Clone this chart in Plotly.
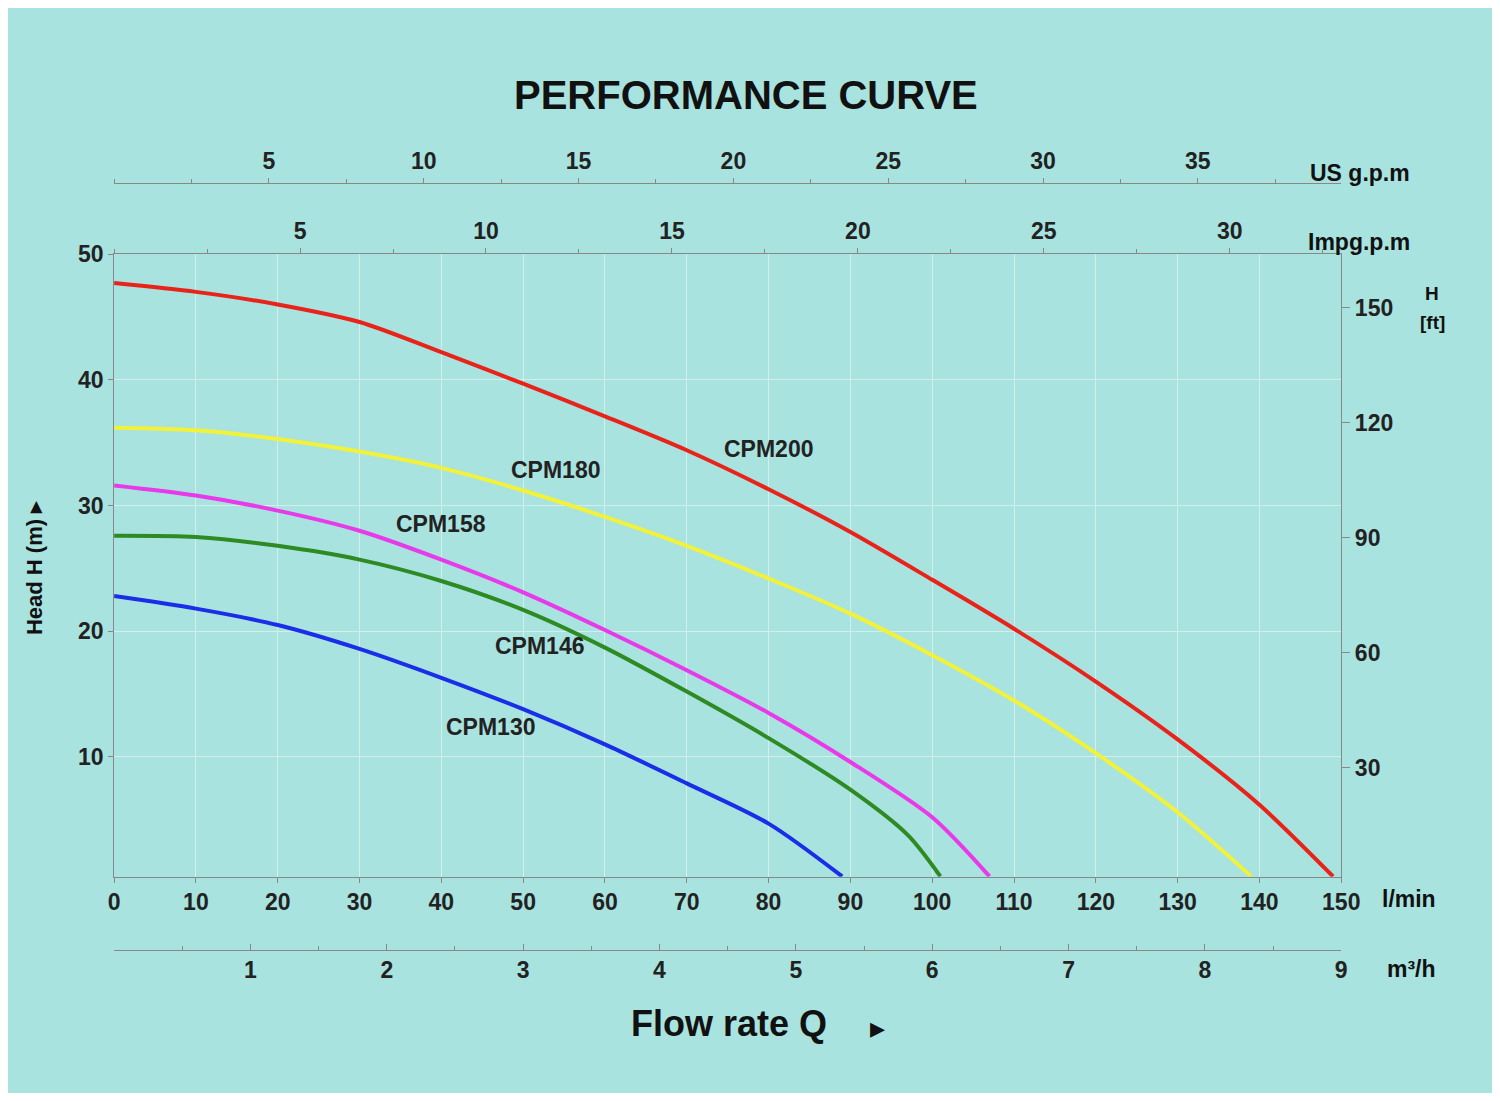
import plotly.graph_objects as go

flow = [0, 10, 20, 30, 40, 50, 60, 70, 80, 90, 100, 110, 120, 130, 140, 149]
cpm200 = [47.7, 47.0, 46.0, 44.6, 42.2, 39.7, 37.1, 34.4, 31.3, 27.9, 24.1, 20.2, 16.0, 11.4, 6.2, 0.5]
flow180 = [0, 10, 20, 30, 40, 50, 60, 70, 80, 90, 100, 110, 120, 130, 139]
cpm180 = [36.2, 36.0, 35.3, 34.3, 33.0, 31.2, 29.1, 26.8, 24.2, 21.4, 18.1, 14.5, 10.3, 5.6, 0.5]
flow158 = [0, 10, 20, 30, 40, 50, 60, 70, 80, 90, 100, 107]
cpm158 = [31.6, 30.8, 29.6, 28.0, 25.7, 23.1, 20.1, 16.9, 13.5, 9.6, 5.2, 0.5]
flow146 = [0, 10, 20, 30, 40, 50, 60, 70, 80, 90, 97, 101]
cpm146 = [27.6, 27.5, 26.8, 25.7, 24.0, 21.7, 18.7, 15.2, 11.5, 7.4, 3.8, 0.5]
flow130 = [0, 10, 20, 30, 40, 50, 60, 70, 80, 89]
cpm130 = [22.8, 21.8, 20.5, 18.6, 16.3, 13.8, 11.0, 7.9, 4.7, 0.5]

series = [("CPM200", flow, cpm200, "#e8231a", 80, 34.5),
          ("CPM180", flow180, cpm180, "#f2f23a", 54, 32.8),
          ("CPM158", flow158, cpm158, "#e83ae8", 40, 28.5),
          ("CPM146", flow146, cpm146, "#2e8a22", 52, 18.8),
          ("CPM130", flow130, cpm130, "#1a2ee8", 46, 12.4)]

bg = "#a9e3df"
fig = go.Figure()
for name, xs, ys, col, lx, ly in series:
    fig.add_trace(go.Scatter(x=xs, y=ys, mode="lines",
                             line=dict(color=col, width=4, shape="spline", smoothing=0.8), showlegend=False))
    fig.add_annotation(x=lx, y=ly, text="<b>%s</b>" % name, showarrow=False,
                       font=dict(family="Liberation Sans", size=23, color="#222"))

yr = [0.47, 50]
tf = dict(family="Liberation Sans", size=23, color="#222", weight="bold")
dom = [0.0686, 0.9097]
fig.update_layout(
    width=1484, height=1085, paper_bgcolor=bg, plot_bgcolor=bg,
    margin=dict(l=0, r=0, t=0, b=0),
    xaxis=dict(domain=dom, range=[0, 150], dtick=10, showgrid=True, gridcolor="#d4eeec",
               showline=True, linecolor="#888", ticks="outside", ticklen=5,
               tickcolor="#888", tickfont=tf, zeroline=False),
    yaxis=dict(domain=[0.2017, 0.7825], range=yr, tickvals=[10, 20, 30, 40, 50], showgrid=True,
               gridcolor="#d4eeec", showline=True, linecolor="#888", ticks="outside",
               tickcolor="#888", tickfont=tf, zeroline=False),
    yaxis2=dict(overlaying="y", side="right", anchor="x", range=[v * 3.281 for v in yr],
                tickvals=[30, 60, 90, 120, 150], showgrid=False, showline=True, linecolor="#888",
                ticks="outside", tickcolor="#888", tickfont=tf, ticklen=8),
    xaxis2=dict(overlaying="x", side="top", anchor="y", range=[0, 150 / 4.546],
                tickvals=[5, 10, 15, 20, 25, 30],
                showgrid=False, showline=True, linecolor="#888", ticks="outside",
                tickcolor="#888", tickfont=tf, minor=dict(dtick=2.5, ticks="outside", ticklen=4)),
    xaxis3=dict(overlaying="x", side="top", anchor="free", position=0.8488, range=[0, 150 / 3.785],
                tickvals=[5, 10, 15, 20, 25, 30, 35], showgrid=False, showline=True,
                linecolor="#888", ticks="outside", tickcolor="#888", tickfont=tf,
                minor=dict(dtick=2.5, ticks="outside", ticklen=4)),
    xaxis4=dict(overlaying="x", side="bottom", anchor="free", position=0.1336, range=[0, 9],
                tickvals=[1, 2, 3, 4, 5, 6, 7, 8, 9], showgrid=False, showline=True,
                linecolor="#888", ticks="inside", tickcolor="#888", tickfont=tf, ticklen=6,
                minor=dict(dtick=0.5, ticks="inside", ticklen=4)),
)
fig.add_trace(go.Scatter(x=[None], y=[None], yaxis="y2", showlegend=False))
fig.add_trace(go.Scatter(x=[None], y=[None], xaxis="x2", showlegend=False))
fig.add_trace(go.Scatter(x=[None], y=[None], xaxis="x3", showlegend=False))
fig.add_trace(go.Scatter(x=[None], y=[None], xaxis="x4", showlegend=False))

def ann(x, y, text, size=21, **kw):
    fig.add_annotation(xref="paper", yref="paper", x=x, y=y, text=text, showarrow=False,
                       font=dict(family="Liberation Sans", size=size, color="#111"), **kw)

ann(0.502, 0.953, "<b>PERFORMANCE CURVE</b>", size=40)
ann(0.958, 0.872, "<b>US g.p.m</b>", size=23)
ann(0.958, 0.808, "<b>Impg.p.m</b>", size=23)
ann(0.978, 0.757, "<b>H</b>", size=19)
ann(0.982, 0.73, "<b>[ft]</b>", size=19)
ann(0.976, 0.167, "<b>l/min</b>", size=23)
ann(0.976, 0.102, "<b>m³/h</b>", size=23)
ann(0.49, 0.044, "<b>Flow rate Q</b>", size=36)
ann(0.592, 0.044, "▸", size=30)
ann(0.004, 0.49, "<b>Head H (m) ▸</b>", size=22, textangle=-90)

fig.write_html("out.html")
